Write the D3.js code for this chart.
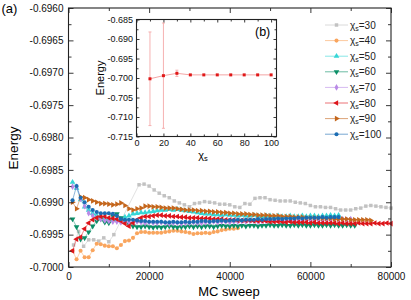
<!DOCTYPE html>
<html>
<head>
<meta charset="utf-8">
<script src="https://cdn.jsdelivr.net/npm/d3@7"></script>
<style>
	body { margin: 0; background: #fff; }
	svg { display: block; font-family: 'Liberation Sans', Arial, sans-serif; }
</style>
</head>
<body>
<div class="chart"></div>
<script>
// bond dimensions of the legend, one series each
const CHI = [30, 40, 50, 60, 70, 80, 90, 100]
const COLORS = ['#c2c2c2', '#f9a55e', '#35d6d6', '#0b8f67', '#b98ae6', '#dd151b', '#c4661c', '#1b6db3']
const SYMBOLS = ['square', 'circle', 'up', 'down', 'diamond', 'left', 'right', 'circle']
const STEP = 1000

// chi = 30 is sampled every 1250 sweeps, with a hole before the jump
const SWEEPS_30 = d3.range(1250, 11251, 1250).concat(d3.range(17500, 80001, 1250))
const E30 = [
	-0.69966, -0.69945, -0.69968, -0.69958, -0.69958, -0.69960, -0.69955, -0.69961, -0.69950,
	-0.69873, -0.69872, -0.69875, -0.69881, -0.69886, -0.69890, -0.69893, -0.69898, -0.69901, -0.69904,
	-0.69907, -0.69902, -0.69901, -0.69899, -0.69900, -0.69901, -0.69903, -0.69903, -0.69904, -0.69907,
	-0.69908, -0.69902, -0.69903, -0.69894, -0.69893, -0.69893, -0.69896, -0.69897, -0.69898, -0.69898,
	-0.69898, -0.69900, -0.69901, -0.69902, -0.69905, -0.69907, -0.69907, -0.69908, -0.69908, -0.69910,
	-0.69912, -0.69912, -0.69912, -0.69910, -0.69909, -0.69906, -0.69905, -0.69906, -0.69907, -0.69908,
	-0.69909,
]
const E40 = [
	-0.69975, -0.69988, -0.69975, -0.69985, -0.69985, -0.69974, -0.69964, -0.69965, -0.69967, -0.69968,
	-0.69968, -0.69971, -0.69966, -0.69960, -0.69959, -0.69955, -0.69948, -0.69946, -0.69946, -0.69947,
	-0.69947, -0.69947, -0.69947, -0.69946, -0.69945, -0.69944, -0.69944, -0.69945, -0.69946, -0.69947,
	-0.69949, -0.69948, -0.69948, -0.69947, -0.69948, -0.69946, -0.69945, -0.69943, -0.69942, -0.69941,
	-0.69941, -0.69940,
]
const E50 = [
	-0.69869, -0.69878, -0.69896, -0.69907, -0.69912, -0.69917, -0.69920, -0.69922, -0.69926, -0.69927,
	-0.69927, -0.69927, -0.69926, -0.69923, -0.69921, -0.69918, -0.69917, -0.69916, -0.69916, -0.69915,
	-0.69914, -0.69913, -0.69912, -0.69912, -0.69911, -0.69912, -0.69911, -0.69912, -0.69913, -0.69914,
	-0.69915, -0.69916, -0.69917, -0.69918, -0.69918, -0.69919, -0.69919, -0.69920, -0.69919, -0.69920,
	-0.69920, -0.69921, -0.69920, -0.69921, -0.69921, -0.69920, -0.69921, -0.69922, -0.69921, -0.69921,
	-0.69922, -0.69921, -0.69922, -0.69922, -0.69921, -0.69922, -0.69922, -0.69921, -0.69922, -0.69921,
	-0.69921, -0.69922, -0.69921, -0.69921, -0.69920, -0.69921, -0.69920,
]
const E60 = [
	-0.69926, -0.69938, -0.69957, -0.69955, -0.69946, -0.69937, -0.69929, -0.69926, -0.69931, -0.69932,
	-0.69921, -0.69918, -0.69924, -0.69929, -0.69934, -0.69937, -0.69938, -0.69938, -0.69937, -0.69938,
	-0.69939, -0.69938, -0.69939, -0.69938, -0.69937, -0.69938, -0.69939, -0.69938, -0.69938, -0.69937,
	-0.69938, -0.69937, -0.69938, -0.69937, -0.69937, -0.69938, -0.69937, -0.69936, -0.69937, -0.69937,
	-0.69936, -0.69937, -0.69936, -0.69937, -0.69936, -0.69936, -0.69937, -0.69936, -0.69936, -0.69935,
	-0.69936, -0.69936, -0.69935, -0.69936, -0.69936, -0.69935, -0.69936, -0.69935, -0.69936, -0.69936,
	-0.69935, -0.69936, -0.69936, -0.69935, -0.69936, -0.69935, -0.69936, -0.69936, -0.69935, -0.69936,
	-0.69936,
]
const E70 = [
	-0.69876, -0.69876, -0.69895, -0.69906, -0.69917, -0.69921, -0.69924, -0.69926, -0.69928, -0.69929,
	-0.69930, -0.69930, -0.69931, -0.69930, -0.69931, -0.69931, -0.69930, -0.69931, -0.69932, -0.69931,
	-0.69932, -0.69932, -0.69931, -0.69932, -0.69933, -0.69932, -0.69932, -0.69933, -0.69932, -0.69932,
	-0.69931, -0.69932, -0.69932, -0.69931, -0.69931, -0.69930, -0.69931, -0.69930, -0.69930, -0.69931,
	-0.69930, -0.69930, -0.69929, -0.69930, -0.69929, -0.69929, -0.69930, -0.69929, -0.69929, -0.69928,
	-0.69929, -0.69928, -0.69928, -0.69929, -0.69928, -0.69928, -0.69927, -0.69928, -0.69927, -0.69928,
	-0.69927, -0.69927, -0.69928, -0.69927, -0.69927, -0.69926, -0.69927, -0.69926, -0.69927, -0.69926,
]
const E80 = [
	-0.69975, -0.69957, -0.69954, -0.69941, -0.69932, -0.69927, -0.69924, -0.69922, -0.69922, -0.69924,
	-0.69925, -0.69926, -0.69929, -0.69933, -0.69937, -0.69932, -0.69927, -0.69924, -0.69922, -0.69922,
	-0.69921, -0.69920, -0.69920, -0.69921, -0.69921, -0.69922, -0.69922, -0.69923, -0.69923, -0.69924,
	-0.69924, -0.69924, -0.69925, -0.69925, -0.69925, -0.69926, -0.69926, -0.69926, -0.69927, -0.69927,
	-0.69927, -0.69928, -0.69928, -0.69928, -0.69928, -0.69929, -0.69929, -0.69929, -0.69929, -0.69930,
	-0.69930, -0.69930, -0.69930, -0.69931, -0.69930, -0.69931, -0.69931, -0.69931, -0.69931, -0.69932,
	-0.69931, -0.69932, -0.69932, -0.69932, -0.69932, -0.69932, -0.69933, -0.69932, -0.69933, -0.69933,
	-0.69933, -0.69932, -0.69933, -0.69933, -0.69933, -0.69932, -0.69933, -0.69933, -0.69932, -0.69933,
]
const E90 = [
	-0.69900, -0.69910, -0.69892, -0.69893, -0.69896, -0.69898, -0.69900, -0.69902, -0.69902, -0.69903,
	-0.69904, -0.69903, -0.69901, -0.69905, -0.69910, -0.69912, -0.69910, -0.69909, -0.69906, -0.69906,
	-0.69907, -0.69907, -0.69908, -0.69909, -0.69909, -0.69909, -0.69910, -0.69911, -0.69912, -0.69912,
	-0.69912, -0.69913, -0.69913, -0.69914, -0.69914, -0.69915, -0.69915, -0.69916, -0.69916, -0.69917,
	-0.69917, -0.69918, -0.69918, -0.69918, -0.69919, -0.69919, -0.69920, -0.69920, -0.69920, -0.69921,
	-0.69921, -0.69921, -0.69922, -0.69922, -0.69922, -0.69923, -0.69923, -0.69923, -0.69924, -0.69924,
	-0.69924, -0.69924, -0.69925, -0.69925, -0.69925, -0.69926, -0.69926, -0.69926, -0.69926, -0.69927,
	-0.69927, -0.69927, -0.69927, -0.69927, -0.69928,
]
const E100 = [
	-0.69897, -0.69875, -0.69893, -0.69900, -0.69907, -0.69912, -0.69915, -0.69917, -0.69917, -0.69917,
	-0.69918, -0.69921, -0.69926, -0.69927, -0.69927, -0.69927, -0.69928, -0.69929, -0.69929, -0.69930,
	-0.69930, -0.69930, -0.69930, -0.69931, -0.69931, -0.69930, -0.69931, -0.69931, -0.69930, -0.69931,
	-0.69930, -0.69930, -0.69929, -0.69929, -0.69930, -0.69929, -0.69929, -0.69928, -0.69929, -0.69928,
	-0.69928, -0.69927, -0.69928, -0.69927, -0.69927, -0.69927, -0.69926, -0.69927, -0.69926, -0.69926,
	-0.69926, -0.69925, -0.69926, -0.69925, -0.69925, -0.69925, -0.69924, -0.69925, -0.69924, -0.69924,
	-0.69924, -0.69924, -0.69923, -0.69924, -0.69923, -0.69923, -0.69923,
]

// inset (b): converged energy vs chi_s
const CHI_S = [10, 20, 30, 40, 50, 60, 70, 80, 90, 100]
const E_CHI = [-0.7002, -0.6994, -0.6988, -0.6992, -0.6992, -0.6992, -0.6992, -0.6992, -0.6992, -0.6992]
const ERR_CHI = [0.0120, 0.0135, 0.0008, 0, 0, 0, 0, 0, 0, 0]

const X_TICKS = [0, 20000, 40000, 60000, 80000]
const Y_TICKS = d3.range(-0.7, -0.69599, 0.0005)
const IX_TICKS = [0, 20, 40, 60, 80, 100]
const IY_TICKS = [-0.715, -0.71, -0.705, -0.7, -0.695, -0.69, -0.685]

const WIDTH = 411
const HEIGHT = 300
const locale = d3.formatLocale({ decimal: '.', thousands: '', grouping: [3], currency: ['', ''], minus: '-' })

const series = [E30, E40, E50, E60, E70, E80, E90, E100].map((values, i) => ({
	chi: CHI[i],
	color: COLORS[i],
	symbol: SYMBOLS[i],
	points: values.map((e, j) => ({
		sweep: i === 0 ? SWEEPS_30[j] : (j + 1) * STEP,
		energy: e,
	})),
}))

function symbolPath(kind) {
	const types = {
		square: d3.symbolSquare, circle: d3.symbolCircle, diamond: d3.symbolDiamond,
		up: d3.symbolTriangle, down: d3.symbolTriangle, left: d3.symbolTriangle, right: d3.symbolTriangle,
	}
	const sizes = { square: 12, circle: 13, diamond: 13 }
	return d3.symbol().type(types[kind]).size(sizes[kind] || 14)()
}

function symbolRotate(kind) {
	return { down: 180, left: -90, right: 90 }[kind] || 0
}

function frameAxes(g, x, y, opt) {
	const [x0, x1] = x.range()
	const [y0, y1] = y.range()

	const ticks = [
		[d3.axisBottom(x), y0, opt.xMajor, opt.big, true],
		[d3.axisBottom(x), y0, opt.xMinor, opt.small, false],
		[d3.axisTop(x), y1, opt.xMajor, opt.big, false],
		[d3.axisTop(x), y1, opt.xMinor, opt.small, false],
	]
	ticks.forEach(([axis, pos, vals, len, labels]) => {
		axis.tickValues(vals).tickSize(-len).tickPadding(opt.xPad)
			.tickFormat(labels ? opt.xFormat : '')
		g.append('g').attr('transform', `translate(0,${pos})`).call(axis)
	})

	const yticks = [
		[d3.axisLeft(y), x0, opt.yMajor, opt.big, true],
		[d3.axisLeft(y), x0, opt.yMinor, opt.small, false],
		[d3.axisRight(y), x1, opt.yMajor, opt.big, false],
		[d3.axisRight(y), x1, opt.yMinor, opt.small, false],
	]
	yticks.forEach(([axis, pos, vals, len, labels]) => {
		axis.tickValues(vals).tickSize(-len).tickPadding(opt.yPad)
			.tickFormat(labels ? opt.yFormat : '')
		g.append('g').attr('transform', `translate(${pos},0)`).call(axis)
	})

	g.selectAll('.domain').remove()
	g.selectAll('.tick line').attr('stroke', '#222').attr('stroke-width', 0.9)
	g.selectAll('.tick text')
		.attr('fill', '#111')
		.style('font-size', `${opt.fontSize}px`)
		.style('font-family', "'Liberation Sans', Arial, sans-serif")

	g.append('rect')
		.attr('x', x0).attr('y', y1)
		.attr('width', x1 - x0).attr('height', y0 - y1)
		.attr('fill', 'none').attr('stroke', '#222').attr('stroke-width', 1.1)
}

const svg = d3.select('.chart').append('svg')
	.attr('width', WIDTH)
	.attr('height', HEIGHT)

// main panel (a)
const x = d3.scaleLinear().domain([0, 80000]).range([68.5, 391])
const y = d3.scaleLinear().domain([-0.7, -0.696]).range([267, 8])

const plot = svg.append('g').attr('class', 'g-plot')
const line = d3.line().x(d => x(d.sweep)).y(d => y(d.energy))

series.forEach(s => {
	const g = plot.append('g').attr('class', `series chi-${s.chi}`)
	g.append('path')
		.attr('d', line(s.points))
		.attr('fill', 'none')
		.attr('stroke', s.color)
		.attr('stroke-opacity', 0.7)
		.attr('stroke-width', 0.7)
	g.selectAll('.mark').data(s.points)
		.enter().append('path')
		.attr('class', 'mark')
		.attr('d', symbolPath(s.symbol))
		.attr('fill', s.color)
		.attr('transform', d => `translate(${x(d.sweep)},${y(d.energy)}) rotate(${symbolRotate(s.symbol)})`)
})

const axes = svg.append('g').attr('class', 'g-axis')
frameAxes(axes, x, y, {
	xMajor: X_TICKS,
	xMinor: [10000, 30000, 50000, 70000],
	yMajor: Y_TICKS,
	yMinor: Y_TICKS.slice(1).map(v => v - 0.00025),
	big: 5,
	small: 3,
	xPad: 6,
	yPad: 5,
	fontSize: 10,
	xFormat: locale.format('d'),
	yFormat: locale.format('.4f'),
})

svg.append('text')
	.attr('x', 229).attr('y', 296)
	.attr('text-anchor', 'middle')
	.style('font-size', '13px')
	.text('MC sweep')

svg.append('text')
	.attr('transform', 'translate(18,148) rotate(-90)')
	.attr('text-anchor', 'middle')
	.style('font-size', '13.5px')
	.text('Energy')

svg.append('text')
	.attr('x', 1.5).attr('y', 13)
	.style('font-size', '13px')
	.text('(a)')

// legend
const legend = svg.append('g').attr('class', 'legend')
series.forEach((s, i) => {
	const row = legend.append('g').attr('transform', `translate(0,${25 + i * 15.6})`)
	row.append('line')
		.attr('x1', 325).attr('x2', 348)
		.attr('stroke', s.color).attr('stroke-opacity', 0.6).attr('stroke-width', 1)
	row.append('path')
		.attr('d', symbolPath(s.symbol))
		.attr('fill', s.color)
		.attr('transform', `translate(336.5,0) rotate(${symbolRotate(s.symbol)})`)
	const t = row.append('text').attr('x', 350).attr('y', 3.5).style('font-size', '10px').attr('fill', '#222')
	t.append('tspan').text('χ')
	t.append('tspan').attr('dy', 2).style('font-size', '7px').text('s')
	t.append('tspan').attr('dy', -2).text(`=${s.chi}`)
})

// inset (b)
const ix = d3.scaleLinear().domain([0, 104]).range([136.5, 276.5])
const iy = d3.scaleLinear().domain([-0.715, -0.685]).range([136.5, 19.5])
const inset = svg.append('g').attr('class', 'inset')

inset.append('rect')
	.attr('x', 136.5).attr('y', 19.5)
	.attr('width', 140).attr('height', 117)
	.attr('fill', '#fff')

const insetData = CHI_S.map((c, i) => ({ chi: c, energy: E_CHI[i], err: ERR_CHI[i] }))

inset.selectAll('.err').data(insetData.filter(d => d.err > 0))
	.enter().append('line')
	.attr('class', 'err')
	.attr('x1', d => ix(d.chi)).attr('x2', d => ix(d.chi))
	.attr('y1', d => iy(d.energy + d.err)).attr('y2', d => iy(d.energy - d.err))
	.attr('stroke', '#f5a9a9').attr('stroke-width', 0.9)

inset.selectAll('.cap').data(insetData.filter(d => d.err > 0).flatMap(d => [d.energy + d.err, d.energy - d.err].map(e => ({ chi: d.chi, e }))))
	.enter().append('line')
	.attr('class', 'cap')
	.attr('x1', d => ix(d.chi) - 1.5).attr('x2', d => ix(d.chi) + 1.5)
	.attr('y1', d => iy(d.e)).attr('y2', d => iy(d.e))
	.attr('stroke', '#f5a9a9').attr('stroke-width', 0.9)

inset.append('path')
	.attr('d', d3.line().x(d => ix(d.chi)).y(d => iy(d.energy))(insetData))
	.attr('fill', 'none')
	.attr('stroke', '#f29a9a')
	.attr('stroke-width', 0.9)

inset.selectAll('.pt').data(insetData)
	.enter().append('rect')
	.attr('class', 'pt')
	.attr('x', d => ix(d.chi) - 1.5).attr('y', d => iy(d.energy) - 1.5)
	.attr('width', 3).attr('height', 3)
	.attr('fill', '#e01818')

frameAxes(inset.append('g'), ix, iy, {
	xMajor: IX_TICKS,
	xMinor: [10, 30, 50, 70, 90],
	yMajor: IY_TICKS,
	yMinor: IY_TICKS.slice(1).map(v => v - 0.0025),
	big: 3,
	small: 2,
	xPad: 3,
	yPad: 3.5,
	fontSize: 9,
	xFormat: locale.format('d'),
	yFormat: locale.format('.3f'),
})

inset.append('text')
	.attr('transform', 'translate(104,78) rotate(-90)')
	.attr('text-anchor', 'middle')
	.style('font-size', '11px')
	.text('Energy')

const ixLabel = inset.append('text')
	.attr('x', 203).attr('y', 159)
	.attr('text-anchor', 'middle')
	.style('font-size', '11px')
ixLabel.append('tspan').text('χ')
ixLabel.append('tspan').attr('dy', 2).style('font-size', '7.5px').text('s')

inset.append('text')
	.attr('x', 255).attr('y', 36)
	.style('font-size', '12.5px')
	.text('(b)')
</script>
</body>
</html>
